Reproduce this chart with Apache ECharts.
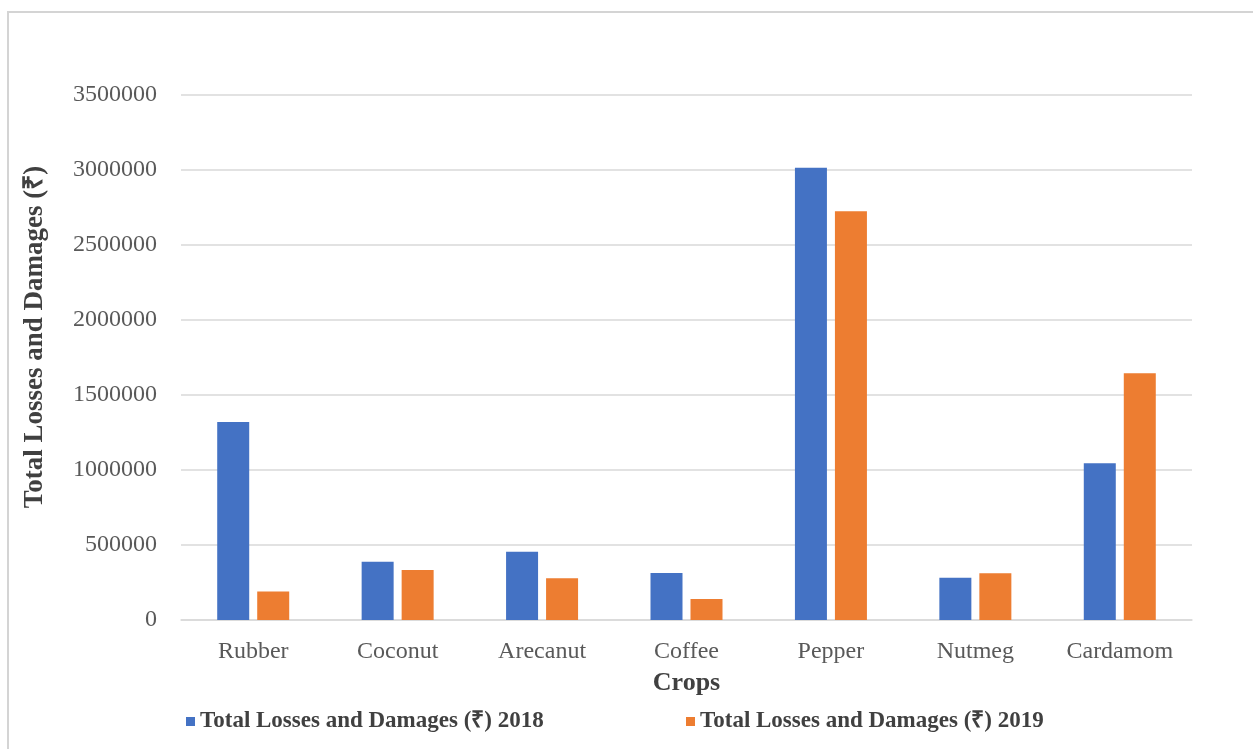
<!DOCTYPE html>
<html>
<head>
<meta charset="utf-8">
<script src="https://cdn.jsdelivr.net/npm/echarts@6/dist/echarts.min.js"></script>
<style>html,body{margin:0;padding:0;background:#fff;}#main{width:1253px;height:749px;}</style>
</head>
<body>
<div id="main"></div>
<script>
const categories = ['Rubber', 'Coconut', 'Arecanut', 'Coffee', 'Pepper', 'Nutmeg', 'Cardamom'];
const series2018 = [1320000, 389000, 455000, 313000, 3015000, 282000, 1045000];
const series2019 = [190000, 333000, 278000, 140000, 2725000, 311000, 1645000];
const seriesNames = ['Total Losses and Damages (₹) 2018', 'Total Losses and Damages (₹) 2019'];
const yTicks = { min: 0, max: 3500000, interval: 500000 };
const xTitle = 'Crops';
const yTitle = 'Total Losses and Damages (₹)';

const serif = '"Liberation Serif", "Times New Roman", serif';
const chart = echarts.init(document.getElementById('main'), null, { renderer: 'canvas' });
chart.setOption({
  backgroundColor: '#ffffff',
  animation: false,
  grid: { left: 181, right: 61, top: 95, bottom: 129, containLabel: false },
  legend: [
    { data: [seriesNames[0]], left: 181, top: 705, icon: 'rect', itemWidth: 9, itemHeight: 9, itemGap: 10,
      textStyle: { fontFamily: serif, fontWeight: 'bold', fontSize: 23, color: '#404040' } },
    { data: [seriesNames[1]], left: 681, top: 705, icon: 'rect', itemWidth: 9, itemHeight: 9, itemGap: 10,
      textStyle: { fontFamily: serif, fontWeight: 'bold', fontSize: 23, color: '#404040' } }
  ],
  xAxis: {
    type: 'category',
    data: categories,
    name: xTitle,
    nameLocation: 'middle',
    nameGap: 50,
    nameTextStyle: { fontFamily: serif, fontWeight: 'bold', fontSize: 26, color: '#404040' },
    axisLine: { show: true, lineStyle: { color: '#d9d9d9', width: 1.5 } },
    axisTick: { show: false },
    axisLabel: { fontFamily: serif, fontSize: 24, color: '#595959', margin: 20 }
  },
  yAxis: {
    type: 'value',
    min: yTicks.min, max: yTicks.max, interval: yTicks.interval,
    axisLine: { show: false },
    axisTick: { show: false },
    splitLine: { lineStyle: { color: '#d9d9d9', width: 1.5 } },
    axisLabel: { fontFamily: serif, fontSize: 24, color: '#595959', margin: 24,
      formatter: function (v) { return String(v); } }
  },
  series: [
    { name: seriesNames[0], type: 'bar', data: series2018, barWidth: 32, barGap: '25%',
      itemStyle: { color: '#4472C4' } },
    { name: seriesNames[1], type: 'bar', data: series2019, barWidth: 32, barGap: '25%',
      itemStyle: { color: '#ED7D31' } }
  ],
  graphic: [
    { type: 'rect', shape: { x: 8, y: 12, width: 1270, height: 770 }, silent: true,
      style: { fill: 'none', stroke: '#d4d4d4', lineWidth: 2 } },
    { type: 'text', x: 35, y: 337, rotation: Math.PI / 2, silent: true,
      style: { text: yTitle, fontFamily: serif, fontWeight: 'bold', fontSize: 27, fill: '#404040',
        align: 'center', verticalAlign: 'middle' } }
  ]
});
</script>
</body>
</html>
